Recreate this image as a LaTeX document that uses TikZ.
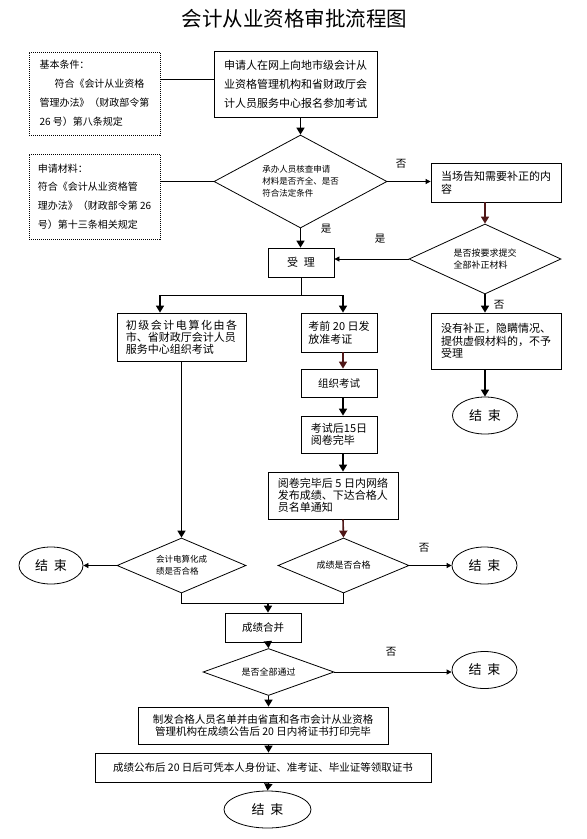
\documentclass[tikz,border=0pt]{standalone}
\usepackage{fontspec}
\setmainfont{Noto Sans CJK SC}
\usetikzlibrary{arrows.meta,shapes.geometric,calc}
\definecolor{darkbr}{RGB}{80,24,24}
\begin{document}
\begin{tikzpicture}[x=1pt,y=-1pt,
  bx/.style={draw, line width=0.8pt, inner sep=0pt, align=left},
  dbox/.style={draw, dash pattern=on 1pt off 1pt, line width=0.8pt, inner sep=0pt, align=left},
  dia/.style={draw, diamond, line width=0.8pt, inner sep=0pt, align=left},
  endn/.style={draw, ellipse, line width=0.8pt, inner sep=0pt, minimum width=65pt, minimum height=37pt, font=\fontsize{13}{15}\selectfont},
  ln/.style={line width=0.8pt},
  varr/.style={line width=1.6pt, -{Triangle[length=7pt,width=8pt]}},
  harr/.style={line width=0.8pt, -{Triangle[length=5pt,width=5pt]}},
  lbl/.style={font=\fontsize{10.5}{12}\selectfont, inner sep=0pt}
]
\useasboundingbox (0,0) rectangle (587,839);
\fill[white] (0,0) rectangle (587,839);

\node[font=\fontsize{20.5}{22}\selectfont, inner sep=0pt] (title) at (294.5,19) {会计从业资格审批流程图};

\node[dbox, minimum width=131pt, minimum height=83pt, font=\fontsize{10}{19}\selectfont] (basic) at (94.5,93.5)
  {基本条件：\\\hspace*{15pt}符合《会计从业资格\\管理办法》（财政部令第\\26 号）第八条规定};
\node[bx, minimum width=163pt, minimum height=66pt, font=\fontsize{11}{19}\selectfont] (apply) at (295.5,84)
  {申请人在网上向地市级会计从\\业资格管理机构和省财政厅会\\计人员服务中心报名参加考试};
\node[dbox, minimum width=131pt, minimum height=85pt, font=\fontsize{10}{18.7}\selectfont] (mat) at (94.5,196.5)
  {申请材料：\\符合《会计从业资格管\\理办法》（财政部令第 26\\号）第十三条相关规定};
\node[dia, aspect=1.86, minimum width=173pt, minimum height=93pt, font=\fontsize{8.5}{12}\selectfont] (chk) at (300.5,181.5)
  {承办人员核查申请\\材料是否齐全、是否\\符合法定条件};
\node[bx, minimum width=130pt, minimum height=39pt, font=\fontsize{11}{13}\selectfont] (tell) at (496,182.5)
  {当场告知需要补正的内\\容};
\node[dia, aspect=2.17, minimum width=152pt, minimum height=70pt, font=\fontsize{9}{12}\selectfont] (sup) at (485,259)
  {是否按要求提交\\全部补正材料};
\node[bx, minimum width=66pt, minimum height=29pt, font=\fontsize{11}{13}\selectfont] (acc) at (301,262.5) {受\hspace{6pt}理};

\node[bx, minimum width=129pt, minimum height=48pt, font=\fontsize{11}{12}\selectfont] (lb) at (181.5,337)
  {{\addfontfeature{LetterSpace=14}初级会计电算化由各}\\市、省财政厅会计人员\\服务中心组织考试};
\node[bx, minimum width=76pt, minimum height=39pt, font=\fontsize{11}{13}\selectfont] (kq) at (339,332.5)
  {考前 20 日发\\放准考证};
\node[bx, minimum width=76pt, minimum height=28pt, font=\fontsize{10.5}{12}\selectfont] (zz) at (339,383) {组织考试};
\node[bx, minimum width=76pt, minimum height=37pt, font=\fontsize{11}{12}\selectfont] (ks) at (339,434.5)
  {考试后15日\\阅卷完毕};
\node[bx, minimum width=130pt, minimum height=47pt, font=\fontsize{11}{12}\selectfont] (yj) at (333,495.5)
  {阅卷完毕后 5 日内网络\\发布成绩、下达合格人\\员名单通知};
\node[bx, minimum width=130pt, minimum height=56pt, font=\fontsize{11}{12.5}\selectfont] (nb) at (496,341)
  {没有补正，隐瞒情况、\\提供虚假材料的，不予\\受理};
\node[endn] (end1) at (485,415.5) {结\hspace{6pt}束};

\node[dia, aspect=2.35, minimum width=129pt, minimum height=55pt, font=\fontsize{8.5}{11.5}\selectfont] (ldia) at (181.5,565.5)
  {会计电算化成\\绩是否合格};
\node[dia, aspect=2.38, minimum width=131pt, minimum height=55pt, font=\fontsize{9}{11}\selectfont] (rdia) at (343.5,565.5)
  {成绩是否合格};
\node[endn, minimum width=64pt] (lend) at (51,565.5) {结\hspace{6pt}束};
\node[endn] (end2) at (484.5,565.5) {结\hspace{6pt}束};

\node[bx, minimum width=76pt, minimum height=29pt, font=\fontsize{10.5}{12}\selectfont] (merge) at (263,627.5) {成绩合并};
\node[dia, aspect=2.79, minimum width=131pt, minimum height=47pt, font=\fontsize{9}{11}\selectfont] (adia) at (268.5,672)
  {是否全部通过};
\node[endn] (end3) at (484.5,670) {结\hspace{6pt}束};
\node[bx, align=center, minimum width=250pt, minimum height=37pt, font=\fontsize{10.5}{11.5}\selectfont] (cert) at (263,725.5)
  {制发合格人员名单并由省直和各市会计从业资格\\管理机构在成绩公告后 20 日内将证书打印完毕};
\node[bx, minimum width=336pt, minimum height=29pt, font=\fontsize{10.5}{12}\selectfont] (get) at (263,767.5)
  {成绩公布后 20 日后可凭本人身份证、准考证、毕业证等领取证书};
\node[endn, minimum width=87pt] (endB) at (267.5,809.5) {结\hspace{6pt}束};

\node[lbl] (no1) at (401,164) {否};
\node[lbl] (yes1) at (326,229) {是};
\node[lbl] (yes2) at (380,239) {是};
\node[lbl] (no2) at (499,305) {否};
\node[lbl] (no3) at (424,548) {否};
\node[lbl] (no4) at (391,652) {否};

\coordinate (brL) at (160,295);
\coordinate (brR) at (343,295);
\coordinate (mC) at (268,603);

\draw[ln] ([yshift=14.5pt]basic.east) coordinate (b1) -- (b1 -| apply.west);
\draw[varr] (apply.south -| chk.north) -- (chk.north);
\draw[ln] (chk.west -| mat.east) -- (chk.west);
\draw[harr] (chk.east) -- (chk.east -| tell.west);
\draw[varr, color=darkbr] (tell.south -| sup.north) -- (sup.north);
\draw[harr] (sup.west) -- (sup.west -| acc.east);
\draw[varr] (chk.south) -- (chk.south |- acc.north);
\draw[ln] (acc.south) -- (acc.south |- brL);
\draw[ln] (brL) -- (brR);
\draw[varr] (brL) -- (brL |- lb.north);
\draw[varr] (brR) -- (brR |- kq.north);
\draw[varr, color=darkbr] (kq.south -| brR) -- (zz.north -| brR);
\draw[varr] (zz.south -| brR) -- (ks.north -| brR);
\draw[varr] (ks.south -| brR) -- (yj.north -| brR);
\draw[varr, color=darkbr] (yj.south -| brR) -- (rdia.north);
\draw[varr] (lb.south) -- (ldia.north);
\draw[harr] (ldia.west) -- (lend.east);
\draw[harr] (rdia.east) -- (end2.west);
\draw[varr] (sup.south) -- (sup.south |- nb.north);
\draw[varr] (nb.south -| sup.south) -- (end1.north);
\draw[ln] (ldia.south) -- ++(0,10) coordinate (mL) -- (mL -| rdia.south) -- (rdia.south);
\draw[varr] (mC) -- (mC |- merge.north);
\draw[varr] (merge.south -| mC) -- (adia.north);
\draw[harr] (adia.east) -- (adia.east -| end3.west);
\draw[varr] (adia.south) -- (adia.south |- cert.north);
\draw[varr] (cert.south -| adia.south) -- (get.north -| adia.south);
\draw[varr] (get.south -| adia.south) -- (endB.north);
\end{tikzpicture}
\end{document}
